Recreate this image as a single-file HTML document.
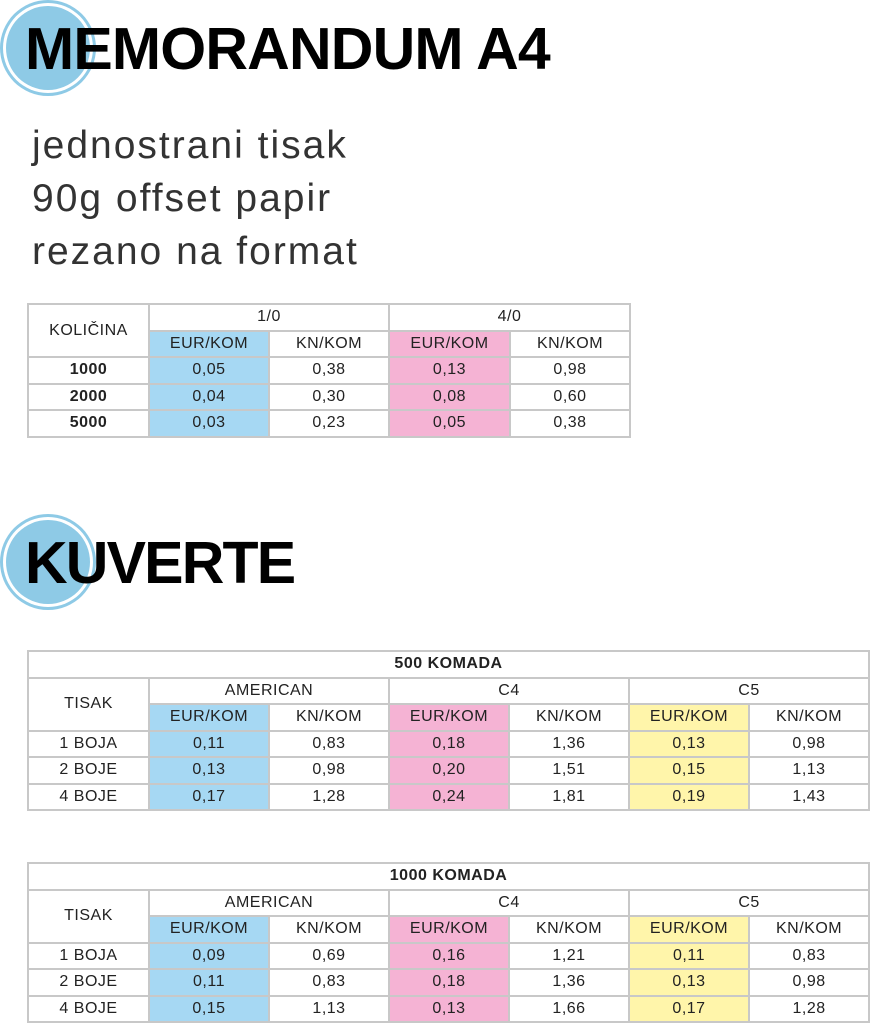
<!DOCTYPE html>
<html><head><meta charset="utf-8">
<style>
body{margin:0;width:870px;height:1024px;background:#fff;position:relative;overflow:hidden;font-family:"Liberation Sans",sans-serif;color:#222}
.circ{position:absolute;width:84px;height:84px;border-radius:50%;background:#8ecae6;box-shadow:0 0 0 3px #fff,0 0 0 6px #8ecae6}
.title{position:absolute;font-weight:bold;font-size:59px;color:#000;letter-spacing:-0.8px;line-height:1}
.desc{position:absolute;left:32px;top:119px;font-size:39px;color:#333;line-height:53px;letter-spacing:2px}
table{position:absolute;border-collapse:collapse;table-layout:fixed}
td{border:2px solid #c8c8c8;text-align:center;font-size:16px;padding:0;height:24.5px;line-height:24px;overflow:hidden;white-space:nowrap;color:#222;letter-spacing:0.5px}
.b{background:#a6d8f3}.p{background:#f5b3d4}.y{background:#fff5aa}
.bold{font-weight:bold}
</style></head><body>
<div class="circ" style="left:6px;top:6px"></div>
<div class="title" style="left:25px;top:20px">MEMORANDUM A4</div>
<div class="desc">jednostrani tisak<br>90g offset papir<br>rezano na format</div>

<table style="left:27px;top:303px;width:602px">
<colgroup><col style="width:121px"><col style="width:120px"><col style="width:120px"><col style="width:121px"><col style="width:120px"></colgroup>
<tr><td rowspan="2">KOLIČINA</td><td colspan="2">1/0</td><td colspan="2">4/0</td></tr>
<tr><td class="b">EUR/KOM</td><td>KN/KOM</td><td class="p">EUR/KOM</td><td>KN/KOM</td></tr>
<tr><td class="bold">1000</td><td class="b">0,05</td><td>0,38</td><td class="p">0,13</td><td>0,98</td></tr>
<tr><td class="bold">2000</td><td class="b">0,04</td><td>0,30</td><td class="p">0,08</td><td>0,60</td></tr>
<tr><td class="bold">5000</td><td class="b">0,03</td><td>0,23</td><td class="p">0,05</td><td>0,38</td></tr>
</table>

<div class="circ" style="left:6px;top:520px"></div>
<div class="title" style="left:25px;top:534px;letter-spacing:-1.8px">KUVERTE</div>

<table style="left:27px;top:650px;width:841px">
<colgroup><col style="width:121px"><col style="width:120px"><col style="width:120px"><col style="width:120px"><col style="width:120px"><col style="width:120px"><col style="width:120px"></colgroup>
<tr><td colspan="7" class="bold">500 KOMADA</td></tr>
<tr><td rowspan="2">TISAK</td><td colspan="2">AMERICAN</td><td colspan="2">C4</td><td colspan="2">C5</td></tr>
<tr><td class="b">EUR/KOM</td><td>KN/KOM</td><td class="p">EUR/KOM</td><td>KN/KOM</td><td class="y">EUR/KOM</td><td>KN/KOM</td></tr>
<tr><td>1 BOJA</td><td class="b">0,11</td><td>0,83</td><td class="p">0,18</td><td>1,36</td><td class="y">0,13</td><td>0,98</td></tr>
<tr><td>2 BOJE</td><td class="b">0,13</td><td>0,98</td><td class="p">0,20</td><td>1,51</td><td class="y">0,15</td><td>1,13</td></tr>
<tr><td>4 BOJE</td><td class="b">0,17</td><td>1,28</td><td class="p">0,24</td><td>1,81</td><td class="y">0,19</td><td>1,43</td></tr>
</table>

<table style="left:27px;top:862px;width:841px">
<colgroup><col style="width:121px"><col style="width:120px"><col style="width:120px"><col style="width:120px"><col style="width:120px"><col style="width:120px"><col style="width:120px"></colgroup>
<tr><td colspan="7" class="bold">1000 KOMADA</td></tr>
<tr><td rowspan="2">TISAK</td><td colspan="2">AMERICAN</td><td colspan="2">C4</td><td colspan="2">C5</td></tr>
<tr><td class="b">EUR/KOM</td><td>KN/KOM</td><td class="p">EUR/KOM</td><td>KN/KOM</td><td class="y">EUR/KOM</td><td>KN/KOM</td></tr>
<tr><td>1 BOJA</td><td class="b">0,09</td><td>0,69</td><td class="p">0,16</td><td>1,21</td><td class="y">0,11</td><td>0,83</td></tr>
<tr><td>2 BOJE</td><td class="b">0,11</td><td>0,83</td><td class="p">0,18</td><td>1,36</td><td class="y">0,13</td><td>0,98</td></tr>
<tr><td>4 BOJE</td><td class="b">0,15</td><td>1,13</td><td class="p">0,13</td><td>1,66</td><td class="y">0,17</td><td>1,28</td></tr>
</table>
</body></html>
